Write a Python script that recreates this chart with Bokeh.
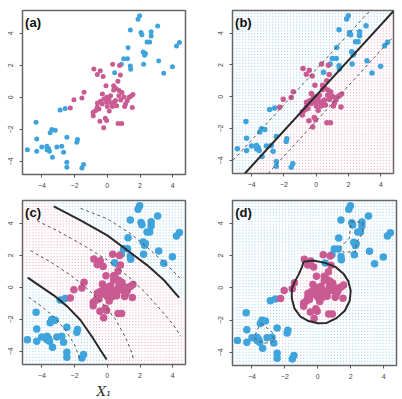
import numpy as np
from bokeh.plotting import figure
from bokeh.layouts import gridplot
from bokeh.models import FixedTicker, Slope, Label
from bokeh.embed import file_html
from bokeh.resources import INLINE

# ---------------- data ----------------
blue_x = [1.98, 1.88, 3.08, 1.41, 2.06, 2.12, 2.68, 2.68, 2.43, 2.59, 4.41, 4.23, 1.27,
          2.19, 2.33, 2.28, 1.00, 1.24, 0.86, 1.41, 1.43, 2.22, 3.14, 3.98, 3.45, 0.45,
          -2.88, -2.57,
          -4.35, -3.39, -3.18, -3.49, -4.31, -2.47, -1.82, -1.86, -4.88, -4.31, -4.00,
          -3.69, -3.59, -3.53, -3.69, -3.08, -2.78, -2.67, -3.35, -2.47, -2.47, -1.55, -1.45]
blue_y = [5.09, 4.88, 4.46, 4.21, 4.04, 3.90, 4.09, 3.83, 3.46, 3.46, 3.42, 3.21, 3.10,
          2.83, 2.73, 2.62, 2.41, 2.41, 2.06, 1.95, 1.75, 2.06, 2.27, 1.91, 1.50, 1.54,
          -0.80, -0.70,
          -1.55, -2.01, -2.06, -2.22, -2.60, -2.49, -2.64, -2.81, -3.27, -3.37, -3.10,
          -3.06, -3.20, -3.37, -3.27, -3.10, -3.06, -3.43, -3.75, -4.06, -4.37, -4.42, -4.20]

pink_x = [-0.82, -0.43, -0.61, -0.25, 0.33, 0.75, 0.80, 0.65, -0.08, 0.39, 0.53, 0.39,
          0.72, -1.42, -1.55, -2.04, -2.26, 0.20, -0.20, -0.04, 0.10, -0.41, -0.31, -0.04,
          0.71, 0.82, 1.02, 1.22, 1.33, 1.57, 1.43, 0.41, 0.57, 0.31, 1.06, 1.12, 1.53,
          -0.61, -0.71, -0.86, -0.51, -0.86, 0.00, -0.12, -0.04, -0.45, -0.22, 0.66, 0.88,
          0.12, 0.50, 0.25, -0.30, 0.90, -0.60]
pink_y = [1.77, 1.66, 1.42, 1.30, 2.06, 1.98, 1.40, 1.00, 0.72, 0.72, 0.55, 0.45,
          0.42, 0.32, -0.05, -0.16, -0.66, 0.10, -0.10, 0.00, -0.12, -0.25, -0.42, -0.31,
          0.10, -0.17, 0.02, -0.21, 0.00, 0.17, 0.06, -0.31, -0.52, -0.58, -0.58, -0.40, -0.64,
          -0.62, -0.83, -0.94, -0.73, -1.15, -0.58, -1.30, -1.45, -1.50, -1.90, -1.63, -1.63,
          -0.85, -0.20, -0.35, 0.20, 0.30, -0.35]

ticks = [-4, -2, 0, 2, 4]
panel_tags = ["(a)", "(b)", "(c)", "(d)"]

# (b) linear boundary and margins
b_gradient = 1.11
b_intercepts = [0.08, 1.72, -1.52]  # solid, upper dashed, lower dashed

# (c) polynomial kernel contours
c_upper_x = [-3.27, -1.63, 0.00, 1.22, 2.45, 3.47, 4.39]
c_upper_y = [5.05, 4.18, 3.24, 2.31, 1.37, 0.44, -0.64]
c_lower_x = [-4.86, -4.08, -3.27, -2.45, -1.63, -0.92, -0.41, -0.04]
c_lower_y = [0.60, 0.06, -0.50, -1.19, -2.06, -3.10, -3.93, -4.51]
c_dash1_x = [-1.63, 0.00, 1.43, 2.65, 3.67, 4.45]
c_dash1_y = [4.93, 4.28, 3.35, 2.31, 1.37, 0.58]
c_dash2_x = [-4.29, -3.00, -1.50, 0.00, 1.20, 2.30, 3.30, 4.00, 4.49]
c_dash2_y = [4.16, 3.50, 2.65, 1.70, 0.75, -0.30, -1.45, -2.30, -3.05]
c_dash3_x = [-4.69, -3.50, -2.30, -1.20, -0.30, 0.50, 1.10, 1.45, 1.63]
c_dash3_y = [2.29, 1.60, 0.80, -0.10, -1.00, -2.00, -3.10, -3.95, -4.57]
c_dash4_x = [-4.80, -4.00, -3.20, -2.50, -2.00, -1.63]
c_dash4_y = [-0.62, -1.20, -1.90, -2.75, -3.60, -4.57]

# (d) radial kernel contours
d_x = [-0.86, -0.28, 0.44, 1.07, 1.56, 1.86, 2.00, 1.94, 1.64, 1.14, 0.54, 0.00,
       -0.56, -1.06, -1.42, -1.58, -1.58, -1.42, -1.15, -0.95, -0.86]
d_y = [1.62, 1.70, 1.55, 1.30, 0.88, 0.40, -0.18, -0.80, -1.42, -1.88, -2.18, -2.20,
       -2.06, -1.78, -1.27, -0.64, -0.08, 0.34, 0.85, 1.32, 1.62]
d_dash1_x = [2.02, 2.73, 2.74, 2.34, 2.29, 1.56, 1.38, 1.92, 2.02]
d_dash1_y = [4.11, 4.07, 3.40, 2.82, 2.25, 2.20, 2.51, 3.09, 4.11]
d_dash2_x = [-3.42, -2.76, -2.66, -3.32, -3.87, -3.67, -3.42]
d_dash2_y = [-2.21, -2.76, -3.33, -3.45, -3.10, -2.58, -2.21]

# ---------------- styling ----------------
BLUE = "#3fa3dc"
PINK = "#c95a92"
GRID_BLUE = "#b3d8ee"
GRID_PINK = "#ecbcd3"
XR = (-5.18, 4.78)
YR = (-4.82, 5.42)
GRID_STEP = 0.185

gx1 = np.arange(XR[0] + 0.08, XR[1], GRID_STEP)
gy1 = np.arange(YR[0] + 0.08, YR[1], GRID_STEP)
GX, GY = np.meshgrid(gx1, gy1)
GX = GX.ravel()
GY = GY.ravel()


def interp_ext(x, xp, fp):
    xp = np.asarray(xp, float)
    fp = np.asarray(fp, float)
    y = np.interp(x, xp, fp)
    lo = x < xp[0]
    hi = x > xp[-1]
    y[lo] = fp[0] + (x[lo] - xp[0]) * (fp[1] - fp[0]) / (xp[1] - xp[0])
    y[hi] = fp[-1] + (x[hi] - xp[-1]) * (fp[-1] - fp[-2]) / (xp[-1] - xp[-2])
    return y


def inside_poly(px, py, vx, vy):
    vx = np.asarray(vx, float)
    vy = np.asarray(vy, float)
    res = np.zeros(px.shape, bool)
    n = len(vx)
    j = n - 1
    for i in range(n):
        denom = (vy[j] - vy[i])
        denom = denom if denom != 0 else 1e-12
        cond = ((vy[i] > py) != (vy[j] > py)) & (px < (vx[j] - vx[i]) * (py - vy[i]) / denom + vx[i])
        res ^= cond
        j = i
    return res


def make_panel(tag, bl, br, bt, bb, fw, fh):
    p = figure(frame_width=fw, frame_height=fh, x_range=XR, y_range=YR,
               output_backend="svg", toolbar_location=None,
               min_border_left=bl, min_border_right=br,
               min_border_top=bt, min_border_bottom=bb)
    p.xgrid.visible = False
    p.ygrid.visible = False
    p.background_fill_color = "white"
    p.border_fill_color = "white"
    p.outline_line_color = "#666666"
    p.outline_line_width = 1.5
    for ax in (p.xaxis[0], p.yaxis[0]):
        ax.ticker = FixedTicker(ticks=ticks)
        ax.axis_line_color = None
        ax.major_tick_in = 0
        ax.major_tick_out = 3
        ax.major_tick_line_color = "#555555"
        ax.minor_tick_line_color = None
        ax.major_label_text_font_size = "7px"
        ax.major_label_text_color = "#444444"
        ax.major_label_text_font = "Liberation Sans"
    p.xaxis.major_label_standoff = 5
    p.yaxis.major_label_standoff = 6
    p.yaxis.major_label_orientation = "vertical"
    p.add_layout(Label(x=-5.02, y=5.14, text=tag, text_font="Liberation Sans",
                       text_font_size="13px", text_font_style="bold",
                       text_baseline="top", text_color="#111111"))
    return p


def add_grid(p, pink_mask):
    p.scatter(GX[~pink_mask], GY[~pink_mask], size=1.4, color=GRID_BLUE, line_color=None)
    p.scatter(GX[pink_mask], GY[pink_mask], size=1.4, color=GRID_PINK, line_color=None)


def add_points(p, size):
    p.scatter(blue_x, blue_y, size=size, color=BLUE, line_color=None)
    p.scatter(pink_x, pink_y, size=size, color=PINK, line_color=None)


# (a)
pa = make_panel(panel_tags[0], 22, 16, 9, 22, 163, 164)
add_points(pa, 5)

# (b)
pb = make_panel(panel_tags[1], 31, 9, 10, 22, 161, 163)
add_grid(pb, GY < b_gradient * GX + b_intercepts[0])
add_points(pb, 5.5)
for k, icpt in enumerate(b_intercepts):
    if k == 0:
        pb.add_layout(Slope(gradient=b_gradient, y_intercept=icpt, line_color="#2a2a2a", line_width=2))
    else:
        pb.add_layout(Slope(gradient=b_gradient, y_intercept=icpt, line_color="#555555",
                            line_width=1, line_dash="3 3"))

# (c)
pc = make_panel(panel_tags[2], 22, 16, 5, 35, 163, 164)
c_mask = (GY < interp_ext(GX, c_upper_x, c_upper_y)) & (GY > interp_ext(GX, c_lower_x, c_lower_y))
add_grid(pc, c_mask)
add_points(pc, 7.5)
for xs, ys in [(c_dash1_x, c_dash1_y), (c_dash2_x, c_dash2_y), (c_dash3_x, c_dash3_y), (c_dash4_x, c_dash4_y)]:
    pc.line(xs, ys, line_color="#555555", line_width=1, line_dash="3 3")
for xs, ys in [(c_upper_x, c_upper_y), (c_lower_x, c_lower_y)]:
    pc.line(xs, ys, line_color="#2a2a2a", line_width=2)
pc.xaxis.axis_label = "X\u2081"
pc.xaxis.axis_label_text_font = "DejaVu Serif"
pc.xaxis.axis_label_text_font_style = "italic"
pc.xaxis.axis_label_text_font_size = "13px"
pc.xaxis.axis_label_text_color = "#333333"
pc.xaxis.axis_label_standoff = 3

# (d)
pd = make_panel(panel_tags[3], 28, 9, 3, 36, 164, 165)
add_grid(pd, inside_poly(GX, GY, d_x, d_y))
add_points(pd, 7.5)
for xs, ys in [(d_dash1_x, d_dash1_y), (d_dash2_x, d_dash2_y)]:
    pd.line(xs, ys, line_color="#555555", line_width=1, line_dash="3 3")
pd.line(d_x, d_y, line_color="#2a2a2a", line_width=2)

grid = gridplot([[pa, pb], [pc, pd]], toolbar_location=None)
open("out.html", "w").write(file_html(grid, INLINE))
